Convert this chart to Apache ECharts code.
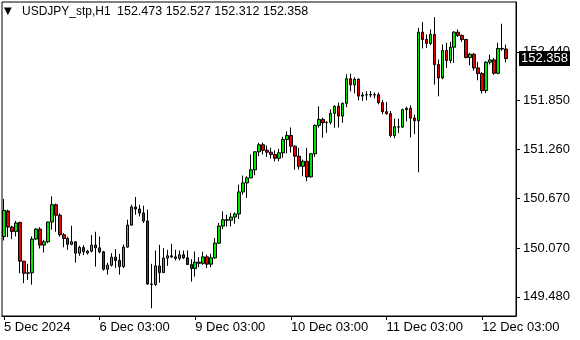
<!DOCTYPE html>
<html><head><meta charset="utf-8">
<script src="https://cdn.jsdelivr.net/npm/echarts@6/dist/echarts.min.js"></script>
<style>html,body{margin:0;padding:0;background:#fff}#c{width:580px;height:340px}</style>
</head><body><div id="c"></div>
<script>
const symbol = 'USDJPY_stp,H1';
const opens = [150.209,150.517,150.323,150.270,150.379,149.911,149.766,149.770,150.178,150.299,
150.105,150.145,150.384,150.593,150.466,150.230,150.185,150.115,150.145,150.008,
150.076,150.010,150.032,150.105,150.072,150.024,149.814,149.863,149.960,149.919,
149.846,150.081,150.347,150.566,150.541,150.493,150.396,149.636,149.630,149.854,
149.773,149.948,149.976,149.963,149.945,149.988,149.951,149.870,149.822,149.899,
149.885,149.963,149.875,149.951,150.129,150.335,150.412,150.406,150.444,150.481,
150.747,150.856,150.917,151.014,151.232,151.317,151.251,151.227,151.199,151.154,
151.220,151.381,151.429,151.300,151.179,151.057,151.118,150.929,151.208,151.551,
151.623,151.583,151.587,151.696,151.781,151.663,151.817,152.114,152.041,152.108,
151.905,151.918,151.922,151.918,151.922,151.826,151.716,151.692,151.429,151.535,
151.530,151.741,151.756,151.639,151.607,152.677,152.589,152.540,152.649,152.286,
152.124,152.456,152.334,152.495,152.677,152.637,152.589,152.370,152.410,152.245,
152.177,151.971,152.314,152.342,152.180,152.480,152.473];
const highs = [150.663,150.533,150.339,150.396,150.387,149.915,149.879,150.209,150.309,150.323,
150.169,150.387,150.694,150.606,150.490,150.251,150.206,150.339,150.151,150.097,
150.105,150.048,150.226,150.266,150.209,150.036,149.891,150.008,150.057,150.000,
150.112,150.412,150.593,150.687,150.593,150.581,150.533,149.879,150.040,150.109,
150.069,150.048,150.121,150.048,150.040,150.040,150.040,149.936,150.028,149.960,
150.024,149.988,150.000,150.190,150.372,150.512,150.472,150.493,150.500,150.836,
150.945,150.936,151.199,151.236,151.341,151.345,151.308,151.280,151.251,151.268,
151.414,151.481,151.526,151.308,151.280,151.139,151.280,151.211,151.563,151.781,
151.644,151.603,151.744,151.793,151.826,151.826,152.168,152.174,152.132,152.120,
151.950,151.962,151.966,151.950,151.947,151.857,151.833,151.724,151.632,151.632,
151.753,151.777,151.793,151.680,152.729,152.798,152.649,152.710,152.859,152.346,
152.528,152.548,152.560,152.689,152.710,152.649,152.592,152.426,152.426,152.317,
152.196,152.326,152.407,152.366,152.548,152.778,152.527];
const lows = [150.161,150.202,150.178,150.209,149.766,149.645,149.685,149.628,150.169,150.064,
150.016,150.129,150.291,150.266,150.206,150.079,150.048,150.103,149.894,149.976,
149.984,149.991,150.016,149.846,150.008,149.797,149.749,149.846,149.830,149.749,
149.830,150.072,150.339,150.472,150.452,150.372,149.624,149.342,149.612,149.652,
149.770,149.854,149.951,149.919,149.919,149.936,149.867,149.664,149.725,149.839,
149.867,149.827,149.839,149.939,150.121,150.299,150.331,150.331,150.363,150.420,
150.715,150.675,150.914,150.948,151.179,151.199,151.171,151.151,151.114,151.118,
151.159,151.211,151.223,151.017,151.017,150.936,150.876,150.921,151.171,151.523,
151.402,151.462,151.563,151.523,151.526,151.583,151.769,151.962,151.938,151.853,
151.845,151.853,151.890,151.878,151.805,151.687,151.680,151.405,151.397,151.457,
151.518,151.599,151.405,151.445,150.985,152.480,152.487,152.520,152.044,151.902,
152.108,152.245,152.302,152.305,152.617,152.560,152.360,152.277,152.213,152.096,
151.935,151.942,152.286,152.162,152.168,152.453,152.312];
const closes = [150.524,150.323,150.270,150.372,149.911,149.766,149.770,150.178,150.299,150.105,
150.145,150.384,150.593,150.466,150.230,150.185,150.115,150.145,150.008,150.076,
150.026,150.032,150.105,150.072,150.024,149.814,149.863,149.960,149.919,149.846,
150.081,150.347,150.566,150.541,150.493,150.396,149.636,149.630,149.854,149.773,
149.948,149.976,149.963,149.945,149.988,149.951,149.870,149.822,149.899,149.885,
149.963,149.875,149.951,150.129,150.335,150.412,150.406,150.444,150.481,150.747,
150.856,150.917,151.014,151.232,151.317,151.251,151.227,151.199,151.154,151.220,
151.381,151.429,151.300,151.179,151.057,151.118,150.929,151.208,151.551,151.623,
151.583,151.587,151.696,151.781,151.663,151.817,152.114,152.041,152.108,151.905,
151.918,151.922,151.918,151.922,151.826,151.716,151.692,151.429,151.535,151.530,
151.741,151.756,151.639,151.607,152.677,152.589,152.540,152.649,152.286,152.124,
152.456,152.334,152.495,152.677,152.637,152.589,152.370,152.410,152.245,152.177,
151.971,152.314,152.342,152.180,152.480,152.473,152.358];
const priceTicks = [149.480, 150.070, 150.670, 151.260, 151.850, 152.440];
const timeTickIndex = [0, 24, 48, 72, 96, 120];
const timeTickLabels = ['5 Dec 2024', '6 Dec 03:00', '9 Dec 03:00', '10 Dec 03:00', '11 Dec 03:00', '12 Dec 03:00'];
const emptyBarsRight = 2;

const months = ['Jan','Feb','Mar','Apr','May','Jun','Jul','Aug','Sep','Oct','Nov','Dec'];
const categories = [];
let t = Date.UTC(2024, 11, 5, 3);
while (categories.length < opens.length) {
  const d = new Date(t);
  const wd = d.getUTCDay();
  if (wd !== 0 && wd !== 6) {
    categories.push(d.getUTCDate() + ' ' + months[d.getUTCMonth()] + ' ' + String(d.getUTCHours()).padStart(2, '0') + ':00');
  }
  t += 3600000;
}
for (let k = 0; k < emptyBarsRight; k++) categories.push('');
const ohlc = opens.map((o, i) => [o, closes[i], lows[i], highs[i]]);
const last = opens.length - 1;
const headerText = [opens[last], highs[last], lows[last], closes[last]].map(v => v.toFixed(3)).join(' ');
const FONT = '"Liberation Sans", Arial, sans-serif';
const isTick = (i) => timeTickIndex.indexOf(i) >= 0;

const chart = echarts.init(document.getElementById('c'), null, {renderer: 'canvas'});
chart.setOption({
  animation: false,
  backgroundColor: '#fff',
  title: {
    left: 4, top: 5, padding: 0,
    text: '{t|▼}{n|' + symbol + '}{v|' + headerText + '}',
    textStyle: {
      fontWeight: 'normal',
      rich: {
        t: {fontSize: 10, color: '#000', width: 18, fontWeight: 'normal', fontFamily: '"DejaVu Sans", sans-serif'},
        n: {fontSize: 12, color: '#000', width: 95, fontWeight: 'normal', fontFamily: FONT},
        v: {fontSize: 12.5, color: '#000', fontWeight: 'normal', fontFamily: FONT}
      }
    }
  },
  grid: {left: 2, top: 2, width: 514, height: 314, show: true, borderColor: '#000', borderWidth: 1, backgroundColor: '#fff'},
  xAxis: {
    type: 'category', data: categories, boundaryGap: true,
    axisLine: {show: true, lineStyle: {color: '#000', width: 1}},
    axisTick: {show: true, alignWithLabel: true, length: 4, interval: isTick, lineStyle: {color: '#000'}},
    axisLabel: {
      interval: isTick, align: 'left', margin: 5, color: '#000', fontSize: 13, fontFamily: FONT,
      formatter: (v, i) => timeTickLabels[timeTickIndex.indexOf(i)] || ''
    },
    splitLine: {show: false}
  },
  yAxis: {
    type: 'value', position: 'right', min: 149.249, max: 153.041, scale: true,
    axisLine: {show: true, lineStyle: {color: '#000'}},
    axisTick: {show: true, length: 4, customValues: priceTicks, lineStyle: {color: '#000'}},
    axisLabel: {customValues: priceTicks, formatter: v => v.toFixed(3), margin: 7, color: '#000', fontSize: 13, fontFamily: FONT},
    splitLine: {show: false}
  },
  series: [{
    type: 'candlestick', data: ohlc, barWidth: 3,
    itemStyle: {color: '#00e600', color0: '#e60000', borderColor: '#000', borderColor0: '#000', borderColorDoji: '#000', borderWidth: 1},
    markLine: {
      silent: true, symbol: ['none', 'none'], animation: false, z: 10,
      lineStyle: {color: 'rgba(0,0,0,0)', width: 1, type: 'solid'},
      data: [{yAxis: closes[last]}],
      label: {show: true, position: 'end', distance: 3, formatter: () => closes[last].toFixed(3),
        backgroundColor: '#000', color: '#fff', fontSize: 13, fontFamily: FONT, padding: [1, 2, 0, 2], lineHeight: 14}
    }
  }]
});
</script></body></html>
